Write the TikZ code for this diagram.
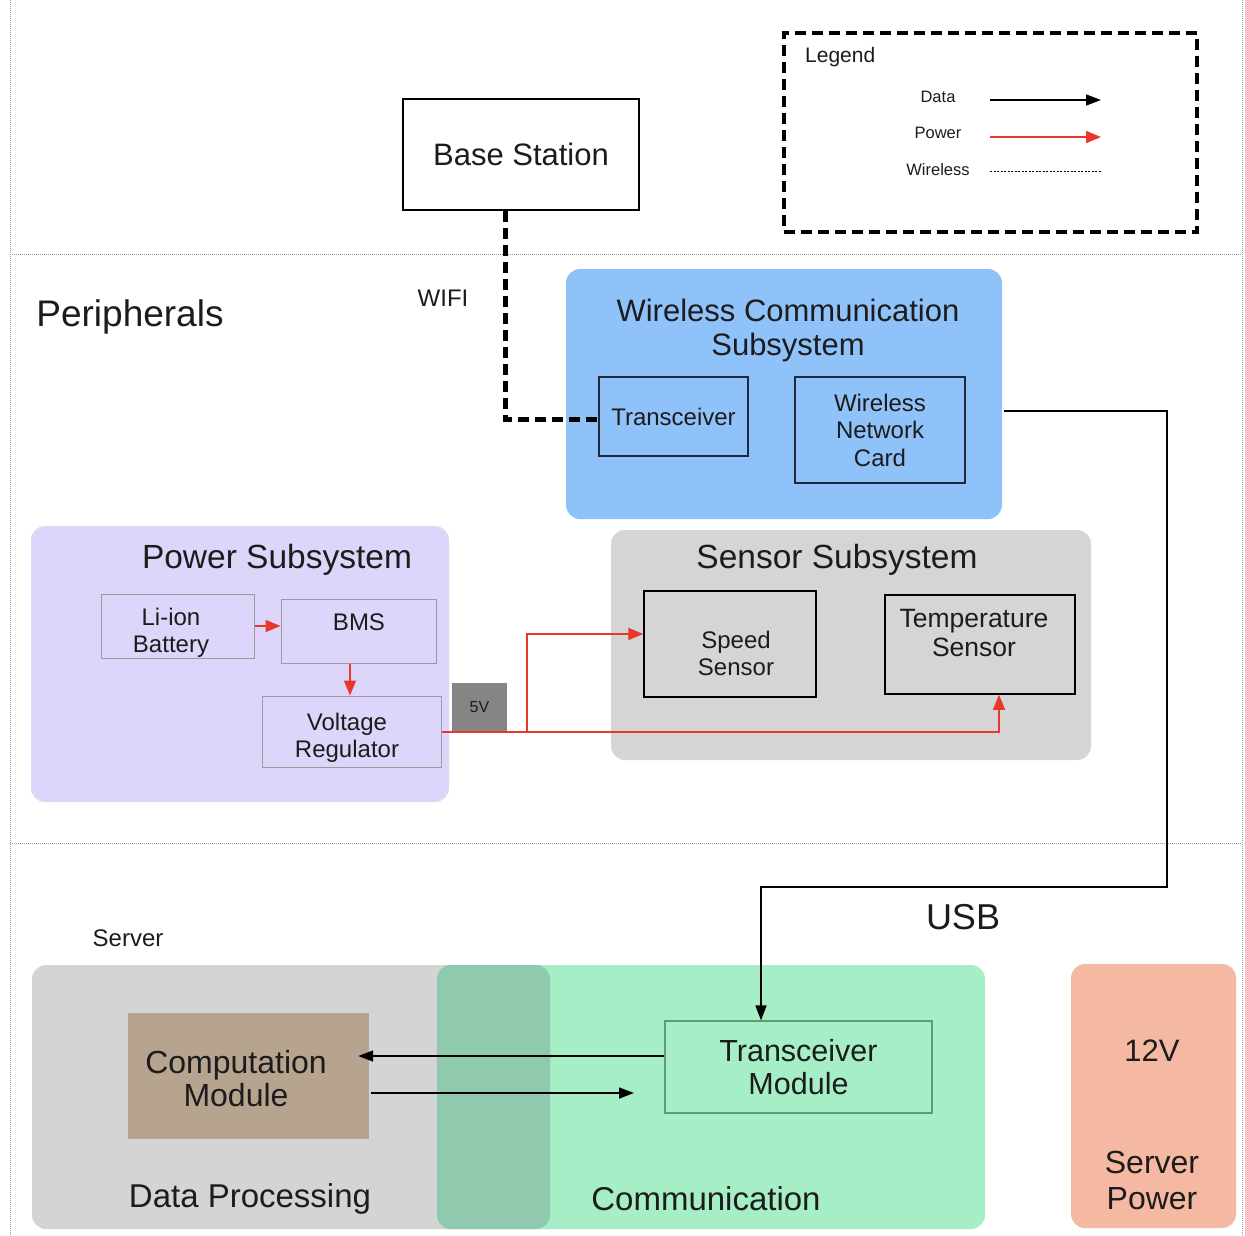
\documentclass[tikz,border=0pt]{standalone}
\usepackage{fontspec}
\setmainfont{Liberation Sans}
\usetikzlibrary{arrows.meta,calc}
\newcommand\myfs[2]{\fontsize{#1}{#2}\selectfont}
\definecolor{txtc}{HTML}{1C1C1C}
\definecolor{blueA}{HTML}{90C2FA}
\definecolor{navy}{HTML}{1E2B3C}
\definecolor{lav}{HTML}{DDD6FA}
\definecolor{bgray}{HTML}{9A9A9A}
\definecolor{sgray}{HTML}{D5D5D5}
\definecolor{dgray}{HTML}{D4D4D4}
\definecolor{vgray}{HTML}{858585}
\definecolor{greenA}{HTML}{A6EEC5}
\definecolor{ovl}{HTML}{8FCAAE}
\definecolor{salmon}{HTML}{F5B8A2}
\definecolor{brownA}{HTML}{B6A48F}
\definecolor{tmb}{HTML}{5E9C74}
\definecolor{pred}{HTML}{E8382B}
\definecolor{sepc}{HTML}{9A9A9A}
\begin{document}
\begin{tikzpicture}[x=1pt,y=-1pt,
  txt/.style={text=txtc, inner sep=0pt, align=center},
  box/.style={draw, line width=1.5pt, inner sep=0pt, align=center, text=txtc},
  region/.style={rounded corners=14pt, inner sep=0pt},
  data/.style={draw=black, line width=1.5pt, -{Triangle[length=15pt,width=11pt]}},
  power/.style={draw=pred, line width=1.6pt, -{Triangle[length=15pt,width=12pt]}},
  sep/.style={draw=sepc, line width=0.9pt, dash pattern=on 1pt off 1pt},
  wifi/.style={draw=black, line width=5pt, dash pattern=on 11pt off 6pt},
]
\useasboundingbox (0,0) rectangle (1245,1235);
\fill[white] (0,0) rectangle (1245,1235);

% separators
\coordinate (s1a) at (10,0);   \coordinate (s1b) at (10,1235);
\coordinate (s2a) at (1242,0); \coordinate (s2b) at (1242,1235);
\coordinate (s3a) at (10,254); \coordinate (s3b) at (1242,254);
\coordinate (s4a) at (10,843); \coordinate (s4b) at (1242,843);
\draw[sep] (s1a) -- (s1b);
\draw[sep] (s2a) -- (s2b);
\draw[sep] (s3a) -- (s3b);
\draw[sep] (s4a) -- (s4b);

% base station
\node[box, minimum width=236pt, minimum height=111pt, font=\myfs{31}{36}] (bs) at (521,154.5) {Base Station};

% legend
\node[draw, line width=4pt, dash pattern=on 11pt off 6pt, minimum width=413pt, minimum height=199pt, inner sep=0pt] (leg) at (990.5,132.5) {};
\node[txt, anchor=base west, font=\myfs{21}{24}] (legt) at (805,62) {Legend};
\node[txt, font=\myfs{16.5}{19}] (ld) at (938,97) {Data};
\node[txt, font=\myfs{16.5}{19}] (lp) at (938,133) {Power};
\node[txt, font=\myfs{16.5}{19}] (lw) at (938,170) {Wireless};
\coordinate (lds) at (990,100);  \coordinate (lde) at (1101,100);
\coordinate (lps) at (990,137);  \coordinate (lpe) at (1101,137);
\coordinate (lws) at (990,171);  \coordinate (lwe) at (1102,171);
\draw[data] (lds) -- (lde);
\draw[power] (lps) -- (lpe);
\draw[black, line width=0.8pt, dash pattern=on 2pt off 1.5pt] (lws) -- (lwe);

% labels
\node[txt, anchor=base, font=\myfs{37}{40}] (peri) at (130,326) {Peripherals};
\node[txt, font=\myfs{24}{28}] (wifil) at (443,298) {WIFI};

% wireless communication subsystem
\node[region, fill=blueA, minimum width=436pt, minimum height=250pt] (wc) at (784,394) {};
\node[txt, font=\myfs{31}{34}] (wct) at (788,330) {Wireless Communication\\Subsystem};
\node[box, draw=navy, minimum width=149pt, minimum height=79pt, font=\myfs{24}{28}] (tr) at (673.5,416.5) {Transceiver};
\node[box, draw=navy, minimum width=170pt, minimum height=106pt, font=\myfs{24}{27.5}] (wnc) at (880,430) {Wireless\\Network\\Card};

\draw[wifi] ([xshift=-16pt]bs.south) |- ([yshift=-2.5pt]tr.west);

% power subsystem
\node[region, fill=lav, minimum width=418pt, minimum height=276pt] (pw) at (240,664) {};
\node[txt, font=\myfs{33.5}{36}] (pwt) at (277,560) {Power Subsystem};
\node[box, draw=bgray, line width=1pt, minimum width=153pt, minimum height=64pt] (li) at (177.5,626) {};
\node[txt, font=\myfs{24}{27}] (lit) at (171,633) {Li-ion\\Battery};
\node[box, draw=bgray, line width=1pt, minimum width=155pt, minimum height=64pt] (bms) at (358.5,631) {};
\node[txt, font=\myfs{24}{27}] (bmst) at (359,622) {BMS};
\node[box, draw=bgray, line width=1pt, minimum width=179pt, minimum height=71pt] (vr) at (351.5,731.5) {};
\node[txt, font=\myfs{24}{27}] (vrt) at (347,738) {Voltage\\Regulator};
\node[fill=vgray, minimum width=55pt, minimum height=49pt, inner sep=0pt, text=txtc, font=\myfs{16}{18}] (fv) at (479.5,707.5) {5V};

% sensor subsystem
\node[region, fill=sgray, minimum width=480pt, minimum height=230pt] (sr) at (851,645) {};
\node[txt, font=\myfs{33.5}{36}] (srt) at (837,560) {Sensor Subsystem};
\node[box, minimum width=172pt, minimum height=106pt] (sp) at (730,644) {};
\node[txt, font=\myfs{24}{27}] (spt) at (736,653) {Speed\\Sensor};
\node[box, minimum width=190pt, minimum height=99pt] (ts) at (980,644.5) {};
\node[txt, font=\myfs{26.5}{29}] (tst) at (974,633) {Temperature\\Sensor};

% power connectors
\draw[power] (li.east) -- (li.east -| bms.west);
\draw[power] ([xshift=-8.5pt]bms.south) -- ([xshift=-8.5pt]bms.south |- vr.north);
\draw[power] ([yshift=-0.5pt]vr.east) -| ([xshift=19pt]ts.south);
\coordinate (br) at (527,732);
\draw[power] (br) |- ([yshift=10pt]sp.west);

% server section
\node[txt, font=\myfs{24}{28}] (srvl) at (128,938) {Server};
\node[region, fill=dgray, minimum width=518pt, minimum height=264pt] (dp) at (291,1097) {};
\node[region, fill=greenA, minimum width=548pt, minimum height=264pt] (cmr) at (711,1097) {};
\node[region, fill=ovl, minimum width=113pt, minimum height=264pt] (ov) at (493.5,1097) {};
\node[fill=brownA, minimum width=241pt, minimum height=126pt, inner sep=0pt] (cm) at (248.5,1076) {};
\node[txt, font=\myfs{32}{33}] (cmt) at (236,1079) {Computation\\Module};
\node[box, draw=tmb, line width=1.2pt, minimum width=267pt, minimum height=92pt, font=\myfs{30.5}{33}] (tm) at (798.5,1067) {Transceiver\\Module};
\node[txt, anchor=base, font=\myfs{33}{36}] (dpt) at (250,1207) {Data Processing};
\node[txt, font=\myfs{33}{36}] (cmrt) at (706,1199) {Communication};
\node[region, fill=salmon, minimum width=165pt, minimum height=264pt] (spw) at (1153.5,1096) {};
\node[txt, font=\myfs{31}{36}] (v12) at (1152,1051) {12V};
\node[txt, font=\myfs{32}{36}] (spwt) at (1152,1180) {Server\\Power};
\node[txt, font=\myfs{36}{40}] (usbl) at (963,917) {USB};

% data connectors
\coordinate (usbt) at (1167,887);
\draw[data] ([xshift=2pt,yshift=-17pt]wc.east) -| (usbt) -| ([xshift=-37.5pt]tm.north);
\draw[data, shorten >=-11pt] ([yshift=11pt]tm.west) -- ([yshift=11pt]tm.west -| cm.east);
\coordinate (c2e) at (634,1093);
\draw[data] ([xshift=2pt,yshift=-17pt]cm.east) -- (c2e);
\end{tikzpicture}
\end{document}
